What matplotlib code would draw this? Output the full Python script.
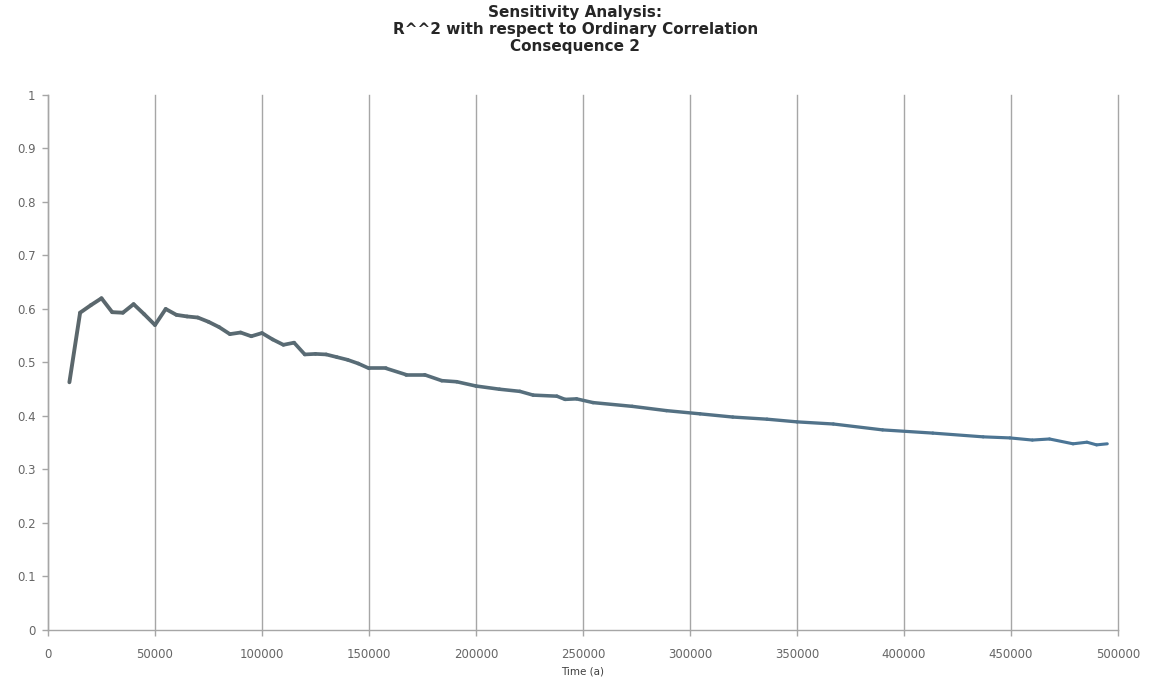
import numpy as np
import matplotlib
matplotlib.use("Agg")
import matplotlib.pyplot as plt
from matplotlib.collections import LineCollection
from matplotlib.colors import LinearSegmentedColormap

plt.rcParams['font.family'] = ['DejaVu Sans']

# Time (a) and R^2 values
time_a = [10000, 15000, 20000, 25000, 30000, 35000, 40000, 45000, 50000, 55000,
          60000, 65000, 70000, 75000, 80000, 85000, 90000, 95000, 100000, 105000,
          110000, 115000, 120000, 125000, 130000, 135000, 140000, 145000, 150000,
          158000, 167500, 176000, 184000, 191000, 200000, 211000, 220500, 226700,
          237800, 241600, 247000, 254700, 273000, 289000, 304700, 320000, 336000,
          350000, 367000, 390000, 413500, 437000, 449500, 460000, 468000, 479000,
          485500, 490000, 495000]
r_squared = [0.463, 0.593, 0.607, 0.620, 0.594, 0.593, 0.609, 0.590, 0.570, 0.600,
             0.589, 0.586, 0.584, 0.576, 0.566, 0.553, 0.556, 0.549, 0.555, 0.543,
             0.533, 0.537, 0.515, 0.516, 0.515, 0.510, 0.505, 0.498, 0.489,
             0.489, 0.477, 0.477, 0.466, 0.464, 0.456, 0.450, 0.446, 0.439,
             0.437, 0.431, 0.432, 0.425, 0.418, 0.410, 0.404, 0.398, 0.394,
             0.389, 0.385, 0.374, 0.368, 0.361, 0.359, 0.355, 0.357, 0.348,
             0.351, 0.346, 0.348]

x_ticks = list(range(0, 500001, 50000))
y_ticks = [0, 0.1, 0.2, 0.3, 0.4, 0.5, 0.6, 0.7, 0.8, 0.9, 1]
y_tick_labels = ['0', '0.1', '0.2', '0.3', '0.4', '0.5', '0.6', '0.7', '0.8', '0.9', '1']
title_lines = ['Sensitivity Analysis:',
               'R^^2 with respect to Ordinary Correlation',
               'Consequence 2']

fig = plt.figure(figsize=(11.51, 6.88), dpi=100)
ax = fig.add_axes([0.0417, 0.0843, 0.9296, 0.7777])

# line shaded from slate gray to steel blue along time
x = np.array(time_a, dtype=float)
y = np.array(r_squared)
pts = np.column_stack([x, y]).reshape(-1, 1, 2)
segs = np.concatenate([pts[:-1], pts[1:]], axis=1)
cmap = LinearSegmentedColormap.from_list('slate', ['#5b676c', '#56707f', '#4a7699'])
frac = (x[:-1] - x.min()) / (x.max() - x.min())
widths = 2.8 - 0.6 * frac
lc = LineCollection(segs, cmap=cmap, linewidths=widths, capstyle='round', joinstyle='round')
lc.set_array(frac)
lc.set_clim(0, 1)
ax.add_collection(lc)

ax.set_xlim(0, 500000)
ax.set_ylim(0, 1)
ax.set_xticks(x_ticks)
ax.set_xticklabels([str(t) for t in x_ticks])
ax.set_yticks(y_ticks)
ax.set_yticklabels(y_tick_labels)

ax.grid(axis='x', color='#a6a6a6', linewidth=1.0)
for gl in ax.get_xgridlines():
    gl.set_clip_on(False)
ax.set_axisbelow(True)
for s in ['top', 'right']:
    ax.spines[s].set_visible(False)
for s in ['left', 'bottom']:
    ax.spines[s].set_color('#a6a6a6')
    ax.spines[s].set_linewidth(1.0)

ax.tick_params(axis='both', colors='#a6a6a6', labelcolor='#666666', labelsize=8.5,
               length=4, width=1.0, direction='out')
ax.tick_params(axis='y', pad=5)
ax.tick_params(axis='x', pad=9)

ax.set_xlabel('Time (a)', fontsize=7.5, color='#404040', labelpad=4)

for i, line in enumerate(title_lines):
    fig.text(0.5, 1 - (12 + 17.5 * i) / 688, line, ha='center', va='center',
             fontsize=11, fontweight='bold', color='#262626')

fig.savefig('out.png', dpi=100, facecolor='white')
